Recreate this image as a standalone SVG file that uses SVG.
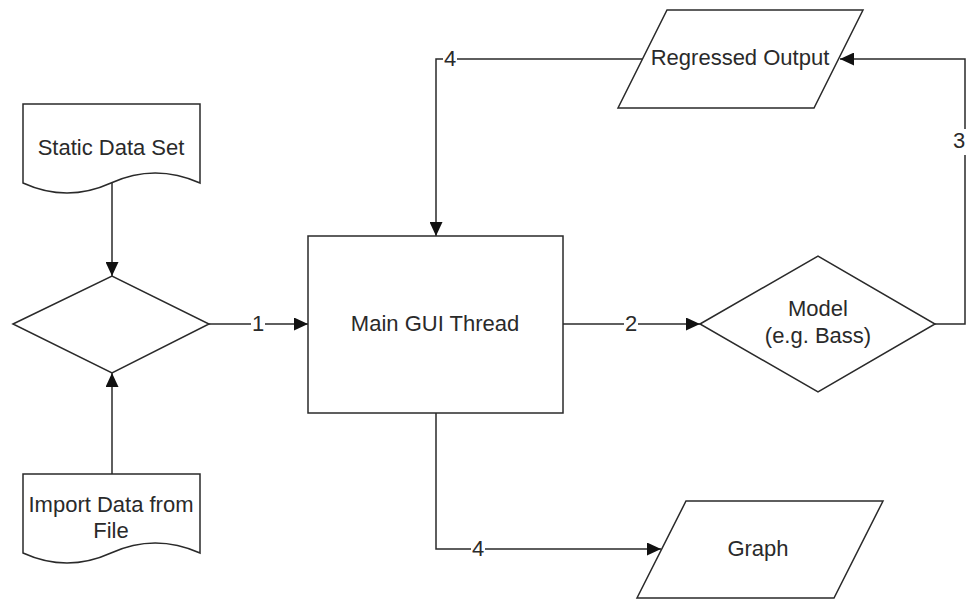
<svg xmlns="http://www.w3.org/2000/svg" width="966" height="599" viewBox="0 0 966 599">
<defs>
<style>
.shape{fill:#fff;stroke:#2a2a2a;stroke-width:1.5}
.conn{fill:none;stroke:#2a2a2a;stroke-width:1.5}
.t{font-family:"Liberation Sans",Arial,sans-serif;font-size:22px;fill:#2a2a2a;text-anchor:middle}
.lb{fill:#fff;stroke:none}
</style>
<marker id="arr" markerUnits="userSpaceOnUse" markerWidth="14" markerHeight="13" refX="14" refY="6.5" orient="auto">
<path d="M0,0 L14,6.5 L0,13 z" fill="#111"/>
</marker>
</defs>
<rect width="966" height="599" fill="#fff"/>
<g id="connectors">
<path class="conn" d="M112,183 L112,276" marker-end="url(#arr)"/>
<path class="conn" d="M112,474 L112,373" marker-end="url(#arr)"/>
<path class="conn" d="M209,324 L308,324" marker-end="url(#arr)"/>
<rect class="lb" x="251" y="314" width="14" height="20"/>
<text class="t" x="258" y="331">1</text>
<path class="conn" d="M563,324 L700,324" marker-end="url(#arr)"/>
<rect class="lb" x="624" y="314" width="14" height="20"/>
<text class="t" x="631" y="331">2</text>
<path class="conn" d="M935,324 L965,324 L965,59 L840,59" marker-end="url(#arr)"/>
<rect class="lb" x="952" y="129" width="14" height="26"/>
<text class="t" x="959" y="148">3</text>
<path class="conn" d="M642,59 L436,59 L436,236" marker-end="url(#arr)"/>
<rect class="lb" x="443" y="49" width="14" height="20"/>
<text class="t" x="450" y="66">4</text>
<path class="conn" d="M436,413 L436,549 L661,549" marker-end="url(#arr)"/>
<rect class="lb" x="471" y="539" width="14" height="20"/>
<text class="t" x="478" y="556">4</text>
</g>
<g id="static-data-set">
<path class="shape" d="M23,104 L200,104 L200,183 Q155,163 111,183 Q67,203 23,183 Z"/>
<text class="t" x="111" y="155">Static Data Set</text>
</g>
<g id="decision">
<path class="shape" d="M13,324 L112,276 L209,324 L112,373 Z"/>
</g>
<g id="import-data">
<path class="shape" d="M23,474 L200,474 L200,553 Q155,533 111,553 Q67,573 23,553 Z"/>
<text class="t" x="111" y="512">Import Data from</text>
<text class="t" x="111" y="538">File</text>
</g>
<g id="main-gui">
<rect class="shape" x="308" y="236" width="255" height="177"/>
<text class="t" x="435" y="331">Main GUI Thread</text>
</g>
<g id="model">
<path class="shape" d="M700,324 L818,256 L935,324 L818,392 Z"/>
<text class="t" x="818" y="316">Model</text>
<text class="t" x="818" y="343">(e.g. Bass)</text>
</g>
<g id="regressed-output">
<path class="shape" d="M667,10 L863,10 L814,108 L618,108 Z"/>
<text class="t" x="740" y="65">Regressed Output</text>
</g>
<g id="graph">
<path class="shape" d="M686,501 L883,501 L834,598 L637,598 Z"/>
<text class="t" x="758" y="556">Graph</text>
</g>
</svg>
